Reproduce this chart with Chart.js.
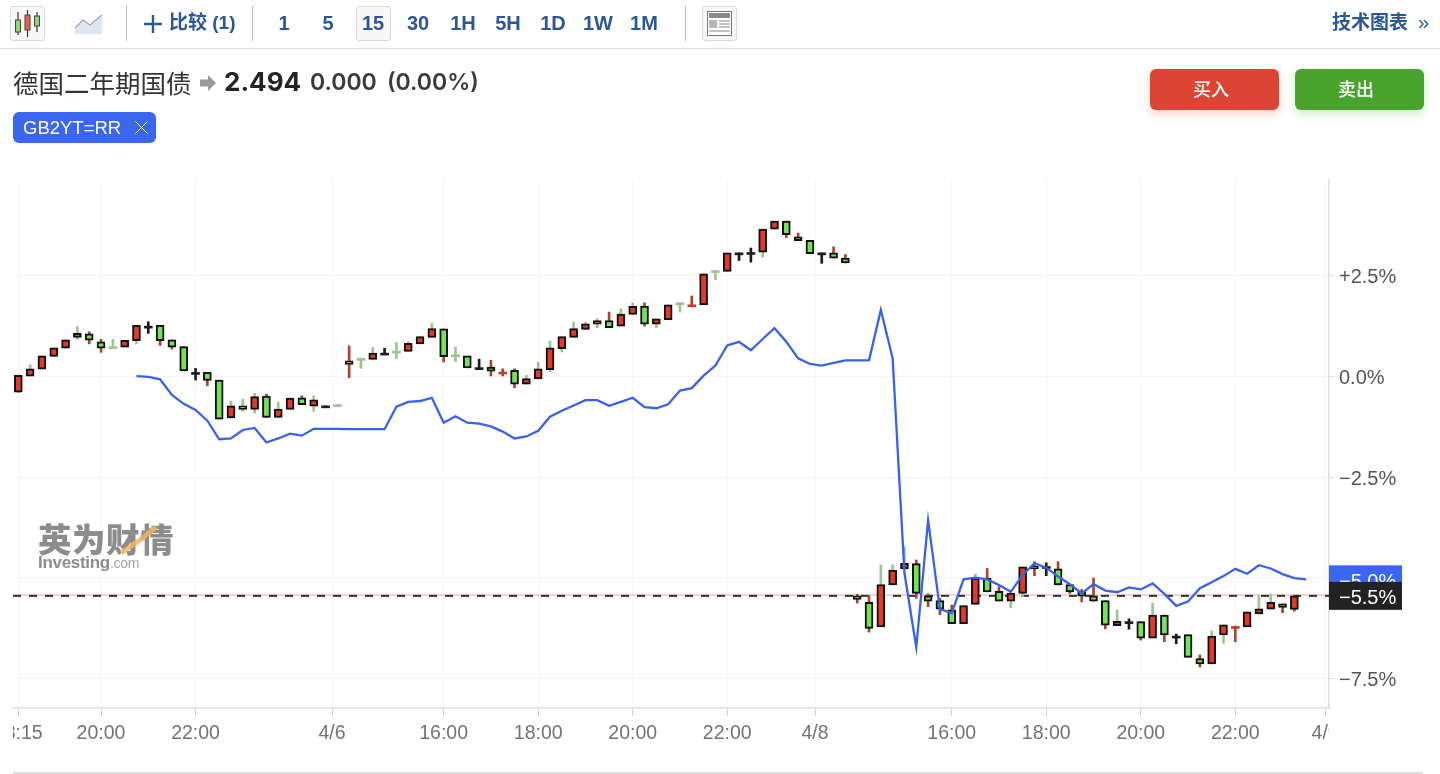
<!DOCTYPE html>
<html lang="zh-CN">
<head>
<meta charset="utf-8">
<title>德国二年期国债</title>
<script src="https://cdn.jsdelivr.net/npm/chart.js@4"></script>
<style>
html,body{margin:0;padding:0;background:#fff;width:1440px;height:774px;overflow:hidden;font-family:"Liberation Sans","Noto Sans CJK SC",sans-serif}
#stage{position:relative;width:1440px;height:774px}
canvas{position:absolute;left:0;top:0}
.abs{position:absolute;white-space:nowrap}
.rule{position:absolute;background:#ddd}
.sep{position:absolute;top:6px;width:1px;height:35px;background:#bdbdbd}
.iv{position:absolute;top:9px;height:28px;line-height:28px;font-size:20px;font-weight:700;color:#2b5797;transform:translateX(-50%)}
.box{position:absolute;box-sizing:border-box;border:1px solid #d9d9d9;border-radius:3px;background:#f7f7f7}
.btn{position:absolute;top:69px;width:129px;height:41px;line-height:38px;border-radius:6px;color:#fff;text-align:center;font-size:18px;font-weight:500;font-family:"Noto Sans CJK SC",sans-serif;text-indent:-7px}
</style>
</head>
<body>
<div id="stage">
<canvas id="c" width="1440" height="774"></canvas>

<div class="box" style="left:10px;top:6px;width:35px;height:35px"></div>
<svg class="abs" style="left:10px;top:6px" width="35" height="35">
 <g stroke="#333" stroke-width="1.2"><line x1="8" y1="6" x2="8" y2="29"/><line x1="17.500" y1="4" x2="17.500" y2="31"/><line x1="27" y1="6" x2="27" y2="26"/></g>
 <rect x="5.500" y="14" width="5" height="12" fill="#8fd37a" stroke="#444"/><rect x="15" y="9" width="5" height="15" fill="#e8604f" stroke="#444"/><rect x="24.500" y="10" width="5" height="10" fill="#8fd37a" stroke="#444"/>
</svg>
<svg class="abs" style="left:74px;top:12px" width="30" height="24">
 <path d="M1 16 L9 8 L16 13 L28 3 L28 22 L1 22 Z" fill="#dfe6f2"/><path d="M1 16 L9 8 L16 13 L28 3" fill="none" stroke="#9aa9c4" stroke-width="1.300"/>
</svg>
<div class="sep" style="left:126px"></div>
<svg class="abs" style="left:143px;top:14px" width="20" height="20"><path d="M10 1 V19 M1 10 H19" stroke="#2b5797" stroke-width="2.400"/></svg>
<div class="abs" style="left:169px;top:9px;line-height:28px;font-size:19px;font-weight:700;color:#2b5797">比较 (1)</div>
<div class="sep" style="left:252px"></div>
<div class="box" style="left:356px;top:6px;width:35px;height:35px"></div>
<div class="iv" style="left:284px">1</div><div class="iv" style="left:328px">5</div><div class="iv" style="left:373px">15</div><div class="iv" style="left:418px">30</div><div class="iv" style="left:463px">1H</div><div class="iv" style="left:508px">5H</div><div class="iv" style="left:553px">1D</div><div class="iv" style="left:598px">1W</div><div class="iv" style="left:644px">1M</div>
<div class="sep" style="left:685px"></div>
<div class="box" style="left:702px;top:6px;width:35px;height:35px"></div>
<svg class="abs" style="left:702px;top:6px" width="35" height="35">
 <rect x="5.500" y="5.500" width="24" height="24" fill="#fff" stroke="#777"/><rect x="7" y="7" width="21" height="5" fill="#8a8a8a"/><rect x="7" y="14" width="8" height="8" fill="#b5b5b5"/>
 <g stroke="#999" stroke-width="1.200"><line x1="17" y1="15" x2="28" y2="15"/><line x1="17" y1="18" x2="28" y2="18"/><line x1="17" y1="21" x2="28" y2="21"/><line x1="7" y1="25" x2="28" y2="25"/></g>
</svg>
<div class="abs" style="left:1332px;top:9px;line-height:28px;font-size:19px;font-weight:700;color:#2b5797">技术图表</div>
<div class="abs" style="left:1418px;top:8px;line-height:28px;font-size:20px;font-weight:300;color:#2b5797">»</div>
<div class="rule" style="left:0;top:47.500px;width:1440px;height:1.500px"></div>

<div class="abs" style="left:13px;top:64px;line-height:36px;font-size:25.500px;color:#333;font-family:'Noto Sans CJK SC',sans-serif;font-weight:400">德国二年期国债</div>
<svg class="abs" style="left:200px;top:75px" width="17" height="16"><path d="M0 4.500 H8 V0 L16 8 L8 16 V11.500 H0 Z" fill="#9b9b9b"/></svg>
<div class="abs" style="left:224px;top:64px;line-height:36px;font-size:26px;font-weight:700;color:#242424;font-family:Inter,sans-serif">2.494</div>
<div class="abs" style="left:310px;top:64px;line-height:36px;font-size:23px;font-weight:600;color:#3a3a3a;font-family:Inter,sans-serif">0.000</div>
<div class="abs" style="left:387px;top:64px;line-height:36px;font-size:23px;font-weight:600;color:#3a3a3a;font-family:Inter,sans-serif">(0.00%)</div>

<div class="abs" style="left:13px;top:112px;width:143px;height:31px;background:#3b66f2;border-radius:6px"></div>
<div class="abs" style="left:23px;top:112px;line-height:31px;font-size:18.500px;color:#fff">GB2YT=RR</div>
<svg class="abs" style="left:134px;top:120px" width="15" height="15"><path d="M1.500 1.500 L13.500 13.500 M13.500 1.500 L1.500 13.500" stroke="#fff" stroke-width="1"/></svg>

<div class="btn" style="left:1150px;background:#dc4533;box-shadow:0 4px 10px rgba(220,69,51,.25)">买入</div>
<div class="btn" style="left:1295px;background:#4aa22f;box-shadow:0 4px 10px rgba(74,162,47,.25)">卖出</div>

<div class="abs" style="left:38px;top:516px;line-height:44px;font-size:33.500px;font-weight:900;letter-spacing:.5px;color:#8c8c8c;font-family:'Noto Sans CJK SC',sans-serif">英为财情</div>
<svg class="abs" style="left:118px;top:524px" width="40" height="32"><path d="M3 29 L22 16 L38 3" fill="none" stroke="#f2b45f" stroke-width="5" opacity=".85"/></svg>
<div class="abs" style="left:38px;top:553px;line-height:20px;font-size:17px;font-weight:700;letter-spacing:-.3px;color:#8c8c8c">Investing<span style="font-size:14px;font-weight:400;color:#a5a5a5">.com</span></div>

<div class="rule" style="left:13px;top:772px;width:1410px;height:1.500px"></div>
</div>

<script>
const opens = [-0.39,0.01,0.18,0.50,0.70,0.97,1.06,0.86,0.74,0.73,0.89,1.25,1.27,0.91,0.74,0.10,0.10,-0.09,-1.03,-0.73,-0.82,-0.49,-1.02,-0.82,-0.53,-0.74,-0.73,-0.70,
0.39,0.45,0.42,0.58,0.63,0.62,0.81,0.97,1.18,0.54,0.51,0.22,0.23,0.11,0.15,-0.19,-0.06,0.17,0.69,0.97,1.17,1.30,1.39,1.25,1.54,1.75,1.30,1.41,1.83,1.78,1.78,2.63,2.61,3.07,3.08,3.09,3.66,3.86,3.47,3.38,3.07,3.07,2.94,
-5.45,-5.61,-6.22,-5.18,-4.78,-4.65,-5.45,-5.57,-5.80,-6.14,-5.66,-5.01,-5.34,-5.58,-5.39,-4.71,-4.72,-4.78,-5.17,-5.35,-5.45,-5.57,-6.19,-6.09,-6.09,-6.50,-5.93,-6.45,-6.41,-7.01,-7.14,-6.42,-6.21,-6.22,-5.90,-5.78,-5.65,-5.79];
const closes = [0.03,0.19,0.51,0.71,0.91,1.07,0.90,0.70,0.74,0.90,1.27,1.25,0.89,0.73,0.14,0.10,-0.10,-1.06,-0.73,-0.82,-0.50,-1.02,-0.81,-0.54,-0.70,-0.58,-0.73,-0.70,
0.30,0.45,0.58,0.58,0.63,0.82,0.99,1.19,0.49,0.54,0.21,0.22,0.13,0.11,-0.19,-0.05,0.19,0.71,0.99,1.19,1.31,1.39,1.21,1.55,1.74,1.30,1.43,1.78,1.83,1.78,2.55,2.63,3.07,3.07,3.08,3.66,3.86,3.52,3.37,3.05,3.07,2.94,2.82,
-5.54,-6.26,-5.17,-4.81,-4.64,-5.39,-5.58,-5.78,-6.14,-5.69,-5.01,-5.35,-5.58,-5.38,-4.73,-4.78,-4.72,-5.18,-5.35,-5.46,-5.58,-6.18,-6.08,-6.09,-6.50,-5.93,-6.42,-6.45,-6.98,-7.14,-6.45,-6.17,-6.21,-5.85,-5.77,-5.61,-5.74,-5.45];
const highs = [0.03,0.29,0.51,0.71,0.91,1.24,1.11,0.92,0.92,0.90,1.27,1.36,1.27,0.91,0.74,0.20,0.10,-0.09,-0.61,-0.56,-0.42,-0.44,-0.64,-0.53,-0.48,-0.48,-0.73,-0.70,
0.76,0.45,0.72,0.70,0.84,0.86,0.99,1.32,1.18,0.73,0.51,0.43,0.40,0.19,0.19,0.03,0.35,0.88,0.99,1.35,1.35,1.44,1.60,1.68,1.83,1.83,1.43,1.78,1.83,2.00,2.55,2.63,3.07,3.07,3.19,3.66,3.86,3.86,3.56,3.38,3.07,3.22,3.03,
-5.41,-5.45,-4.68,-4.68,-4.23,-4.56,-5.40,-5.51,-5.68,-5.69,-4.91,-4.77,-5.22,-5.30,-4.73,-4.60,-4.63,-4.60,-5.17,-5.29,-5.01,-5.57,-5.80,-6.02,-6.09,-5.63,-5.93,-6.40,-6.41,-6.92,-6.32,-6.17,-6.20,-5.85,-5.45,-5.41,-5.65,-5.45];
const lows = [-0.39,0.01,0.18,0.50,0.70,0.92,0.81,0.60,0.73,0.73,0.81,1.07,0.77,0.68,0.14,-0.09,-0.23,-1.06,-1.03,-0.87,-0.91,-1.02,-1.02,-0.82,-0.70,-0.87,-0.73,-0.70,
-0.03,0.20,0.42,0.58,0.44,0.62,0.81,0.97,0.36,0.37,0.21,0.17,0.00,0.00,-0.28,-0.19,-0.06,0.12,0.61,0.97,1.16,1.21,1.21,1.25,1.54,1.25,1.21,1.41,1.60,1.73,1.78,2.40,2.61,2.88,2.84,2.96,3.66,3.45,3.37,3.05,2.81,2.94,2.82,
-5.63,-6.35,-6.22,-5.18,-4.78,-5.51,-5.72,-5.92,-6.14,-6.14,-5.66,-5.35,-5.58,-5.75,-5.47,-4.95,-4.95,-5.18,-5.39,-5.60,-5.58,-6.27,-6.19,-6.28,-6.55,-6.50,-6.59,-6.64,-6.98,-7.22,-7.14,-6.63,-6.59,-6.22,-5.90,-5.78,-5.87,-5.83];
const wickTones = "rggggGrrGggkrrrkrrggGrggrgkgrggkggggrggkrrrggggggGrggrggGrgggkkggrrgkrrrrggGrrrrggrrggrkrrrrrgkrgrkgrggrgggrr".replace(/G/g,'g').split('');
const compareStart = 10;
const compareValues = [0.01,-0.01,-0.07,-0.46,-0.68,-0.83,-1.10,-1.56,-1.54,-1.33,-1.28,-1.64,-1.54,-1.42,-1.47,-1.30,-1.30,-1.30,-1.31,-1.31,-1.31,-1.31,
-0.75,-0.63,-0.61,-0.53,-1.15,-0.99,-1.15,-1.17,-1.24,-1.37,-1.54,-1.49,-1.35,-1.00,-0.85,-0.72,-0.59,-0.59,-0.73,-0.63,-0.53,-0.76,-0.79,-0.69,-0.35,-0.29,0.02,0.27,0.77,0.86,0.65,0.93,1.20,0.86,0.45,0.31,0.27,0.34,0.40,0.40,0.40,1.65,0.45,
-4.89,-6.73,-3.57,-5.78,-5.88,-5.04,-5.00,-5.04,-5.18,-5.35,-4.93,-4.64,-4.75,-4.97,-5.16,-5.39,-5.16,-5.32,-5.36,-5.24,-5.29,-5.14,-5.40,-5.70,-5.59,-5.26,-5.11,-4.96,-4.78,-4.90,-4.69,-4.77,-4.91,-5.01,-5.04];
const xTickLabels = ["18:15","20:00","22:00","4/6","16:00","18:00","20:00","22:00","4/8","16:00","18:00","20:00","22:00","4/9"];
const xTickBars = [0,7,15,26.55,36,44,52,60,67.43,79,87,95,103,110.6];
const yTickValues = [2.5,0,-2.5,-5,-7.5];
const lastPriceLine = -5.43;
const compareTagText = "−5.0%";
const priceTagText = "−5.5%";
const xRange = [-0.449,110.93];
const yRange = [-8.236,4.88];

const MINUS = "−";
const toneColor = {g:"#9fc493",r:"#a9442f",k:"#1c1c1c"};
const dojiColor = {g:"#9fc493",r:"#c0402c",k:"#1c1c1c"};
const isDoji = i => opens[i] === closes[i];
const idx = opens.map((_,i)=>i);

const tagsPlugin = {
  id:"tags",
  afterDraw(chart){
    const {ctx,scales:{y},chartArea:a} = chart;
    ctx.save();
    ctx.fillStyle="#fff";
    ctx.fillRect(0,a.bottom+2,a.left,64);
    ctx.fillRect(a.right,a.bottom+2,60,64);
    const draw=(val,txt,bg)=>{
      const cy=y.getPixelForValue(val);
      ctx.fillStyle=bg;
      ctx.fillRect(a.right,cy-14,73,28);
      ctx.fillStyle="#fff";
      ctx.font='20px "Liberation Sans"';
      ctx.textBaseline="middle";
      ctx.textAlign="left";
      ctx.fillText(txt,a.right+10,cy+3);
    };
    draw(compareValues[compareValues.length-1],compareTagText,"#3b66f2");
    draw(closes[closes.length-1],priceTagText,"#222222");
    ctx.restore();
  }
};

new Chart(document.getElementById("c"),{
  type:"bar",
  plugins:[tagsPlugin],
  data:{datasets:[
    {type:"line",order:5,data:xRange.map(x=>({x,y:lastPriceLine})),borderColor:"#f2a49b",borderWidth:1,pointRadius:0,fill:false},
    {type:"line",order:4,data:xRange.map(x=>({x,y:closes[closes.length-1]})),borderColor:"#333",borderWidth:2,borderDash:[8,8],pointRadius:0,fill:false},
    {order:3,data:idx.map(i=>({x:i,y:[lows[i],highs[i]]})),barThickness:2,grouped:false,borderWidth:0,
      backgroundColor:c=>toneColor[wickTones[c.dataIndex]]},
    {order:2,data:idx.map(i=>({x:i,y:[opens[i],closes[i]]})),barThickness:8,grouped:false,minBarLength:2,
      borderSkipped:false,
      borderWidth:c=>isDoji(c.dataIndex)?0:2,
      borderColor:"#111",
      backgroundColor:c=>{const i=c.dataIndex;return isDoji(i)?dojiColor[wickTones[i]]:(closes[i]>opens[i]?"#e3392b":"#74e35a");}},
    {type:"line",order:1,data:compareValues.map((v,i)=>({x:i+compareStart,y:v})),borderColor:"#3a62e6",borderWidth:2.3,pointRadius:0,tension:0,fill:false}
  ]},
  options:{
    responsive:false,animation:false,devicePixelRatio:1,
    layout:{padding:{left:13,top:180,right:0,bottom:0}},
    plugins:{legend:{display:false},tooltip:{enabled:false}},
    events:[],
    scales:{
      x:{type:"linear",offset:false,min:xRange[0],max:xRange[1],
        afterFit(s){s.height=66;s.paddingLeft=0;s.paddingRight=0;},
        afterBuildTicks(s){s.ticks=xTickBars.map(v=>({value:v}));},
        grid:{offset:false,color:"#f6f6f6",lineWidth:1,tickColor:"#d2d2d2",tickLength:8,drawTicks:true},
        border:{color:"#e0e0e0",width:1.5},
        ticks:{autoSkip:false,maxRotation:0,padding:6,color:"#737373",font:{family:"Liberation Sans",size:19.5},
          callback(v,i){return xTickLabels[i];}}
      },
      y:{type:"linear",position:"right",min:yRange[0],max:yRange[1],
        afterFit(s){s.width=111;s.paddingTop=0;s.paddingBottom=0;},
        afterBuildTicks(s){
          s.ticks=yTickValues.map(v=>({value:v}));
          if(!s._shifted){s._shifted=true;const orig=s._computeLabelItems.bind(s);
            s._computeLabelItems=ca=>orig(ca).map(it=>{it.options.translation[1]+=2;return it;});}
        },
        grid:{color:"#f6f6f6",lineWidth:1,tickColor:"#e2e2e2",tickLength:6},
        border:{color:"#e0e0e0",width:1.5},
        ticks:{padding:4,color:"#555",font:{family:"Liberation Sans",size:20},
          callback(v){const a=Math.abs(v).toFixed(1)+"%";return v>0?"+"+a:(v<0?MINUS+a:a);}}
      }
    }
  }
});
</script>
</body>
</html>
